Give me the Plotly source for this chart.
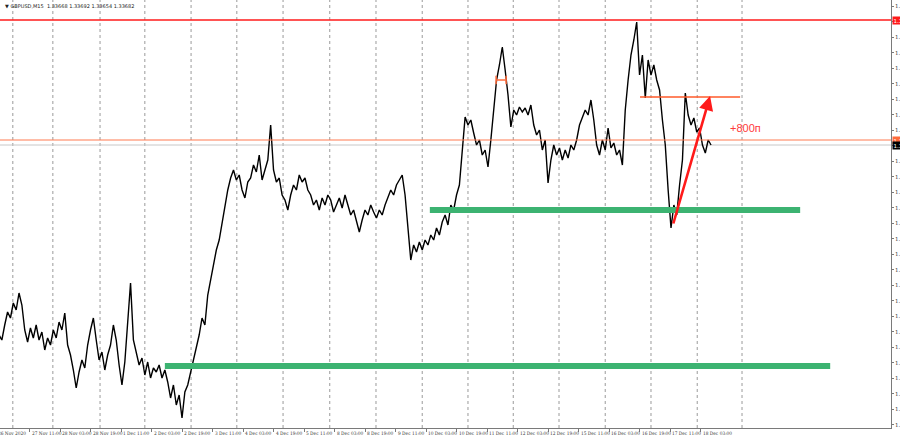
import plotly.graph_objects as go

# ---------------- data ----------------
symbol_title = "▼ GBPUSD,M15  1.33668 1.33692 1.33654 1.33682"
bar_step = 6  # M15 bars between samples
close_prices = [
    1.32542, 1.32512, 1.32602, 1.32680, 1.32644, 1.32734, 1.32692, 1.32794, 1.32722, 1.32572,
    1.32500, 1.32584, 1.32524, 1.32602, 1.32512, 1.32560, 1.32452, 1.32524, 1.32482, 1.32572,
    1.32524, 1.32620, 1.32572, 1.32674, 1.32482, 1.32422, 1.32332, 1.32224, 1.32320, 1.32392,
    1.32344, 1.32482, 1.32572, 1.32644, 1.32512, 1.32392, 1.32440, 1.32332, 1.32422, 1.32482,
    1.32602, 1.32512, 1.32362, 1.32242, 1.32380, 1.32632, 1.32854, 1.32512, 1.32440, 1.32362,
    1.32404, 1.32302, 1.32380, 1.32284, 1.32344, 1.32320, 1.32362, 1.32284, 1.32332, 1.32260,
    1.32164, 1.32242, 1.32122, 1.32182, 1.32044, 1.32200, 1.32242, 1.32320, 1.32392, 1.32482,
    1.32542, 1.32644, 1.32602, 1.32782, 1.32872, 1.32962, 1.33052, 1.33112, 1.33220, 1.33322,
    1.33412, 1.33484, 1.33532, 1.33472, 1.33502, 1.33412, 1.33364, 1.33460, 1.33484, 1.33562,
    1.33520, 1.33622, 1.33472, 1.33532, 1.33592, 1.33802, 1.33532, 1.33460, 1.33484, 1.33382,
    1.33352, 1.33292, 1.33382, 1.33442, 1.33412, 1.33502, 1.33460, 1.33484, 1.33412, 1.33382,
    1.33322, 1.33352, 1.33292, 1.33364, 1.33322, 1.33382, 1.33352, 1.33280, 1.33322, 1.33364,
    1.33304, 1.33382, 1.33322, 1.33262, 1.33292, 1.33220, 1.33160, 1.33232, 1.33292, 1.33262,
    1.33322, 1.33280, 1.33244, 1.33292, 1.33262, 1.33322, 1.33364, 1.33412, 1.33382, 1.33442,
    1.33472, 1.33502, 1.33382, 1.33202, 1.32992, 1.33082, 1.33040, 1.33100, 1.33052, 1.33112,
    1.33082, 1.33142, 1.33112, 1.33184, 1.33142, 1.33220, 1.33262, 1.33202, 1.33322, 1.33292,
    1.33382, 1.33442, 1.33652, 1.33850, 1.33802, 1.33832, 1.33754, 1.33682, 1.33712, 1.33622,
    1.33652, 1.33550, 1.33712, 1.33874, 1.34072, 1.34162, 1.34270, 1.34132, 1.33982, 1.33790,
    1.33892, 1.33862, 1.33910, 1.33880, 1.33904, 1.33862, 1.33922, 1.33802, 1.33742, 1.33772,
    1.33652, 1.33712, 1.33454, 1.33592, 1.33682, 1.33622, 1.33664, 1.33592, 1.33652, 1.33604,
    1.33682, 1.33652, 1.33712, 1.33802, 1.33844, 1.33892, 1.33862, 1.33952, 1.33832, 1.33682,
    1.33622, 1.33712, 1.33652, 1.33784, 1.33664, 1.33694, 1.33622, 1.33652, 1.33562, 1.33892,
    1.34072, 1.34222, 1.34312, 1.34420, 1.34102, 1.34222, 1.33964, 1.34192, 1.34102, 1.34162,
    1.34072, 1.34012, 1.33832, 1.33682, 1.33412, 1.33184, 1.33322, 1.33262, 1.33442, 1.33592,
    1.33994, 1.33862, 1.33802, 1.33844, 1.33760, 1.33784, 1.33682, 1.33634, 1.33712, 1.33682,
]
bar_index = [i * bar_step for i in range(len(close_prices))]

time_labels = [
    "26 Nov 2020", "27 Nov 11:00", "28 Nov 03:00", "28 Nov 19:00", "1 Dec 11:00",
    "2 Dec 03:00", "2 Dec 19:00", "3 Dec 11:00", "4 Dec 03:00", "4 Dec 19:00",
    "5 Dec 11:00", "8 Dec 03:00", "8 Dec 19:00", "9 Dec 11:00", "10 Dec 03:00",
    "10 Dec 19:00", "11 Dec 11:00", "12 Dec 03:00", "12 Dec 19:00", "15 Dec 11:00",
    "16 Dec 03:00", "16 Dec 19:00", "17 Dec 11:00", "18 Dec 03:00",
]
bars_per_label = 64
label_bars = [k * bars_per_label for k in range(len(time_labels))]
day_separators = [29, 113, 212, 306, 403, 499, 596, 694, 791, 888, 984, 1079,
                  1175, 1272, 1368, 1465, 1559]

# horizontal levels
resistance_level = 1.34432      # red line
orange_level = 1.33712          # orange line
bid_level = 1.33682             # grey bid line
green_levels = [1.33292, 1.32356]
green_spans = [(904, 1681), (348, 1744)]
target_level = 1.33970
target_span = (1345, 1555)
marker_level = 1.34072
marker_span = (1043, 1064)
arrow_from = (1414, 1.33202)
arrow_to = (1492, 1.33976)
gain_text = "+800п"
gain_pos = (1567, 1.33784)

y_range = [1.31984, 1.34552]
x_range = [2.1, 1871.6]

# ---------------- figure ----------------
fig = go.Figure()

fig.add_trace(go.Scatter(
    x=bar_index, y=close_prices, mode="lines",
    line=dict(color="#000000", width=1.4), hoverinfo="skip", showlegend=False,
))

# small orange marker near the 11 Dec high
fig.add_trace(go.Scatter(
    x=list(marker_span), y=[marker_level, marker_level], mode="lines+markers",
    line=dict(color="#ff6a3a", width=1.5),
    marker=dict(symbol="line-ns", size=6, line=dict(color="#ff6a3a", width=1.5)),
    hoverinfo="skip", showlegend=False,
))

shapes = []
for b in day_separators:
    shapes.append(dict(type="line", xref="x", yref="paper", x0=b, x1=b, y0=0, y1=1,
                       line=dict(color="#9a9a9a", width=1, dash="dot"), layer="below"))

shapes.append(dict(type="line", xref="paper", yref="y", x0=0, x1=1,
                   y0=resistance_level, y1=resistance_level,
                   line=dict(color="#ff1a1a", width=1.3)))
shapes.append(dict(type="line", xref="paper", yref="y", x0=0, x1=1,
                   y0=orange_level, y1=orange_level,
                   line=dict(color="#ff7a50", width=1)))
shapes.append(dict(type="line", xref="paper", yref="y", x0=0, x1=1,
                   y0=bid_level, y1=bid_level,
                   line=dict(color="#c8c8c8", width=1), layer="below"))
for lvl, (a, b) in zip(green_levels, green_spans):
    shapes.append(dict(type="line", xref="x", yref="y", x0=a, x1=b, y0=lvl, y1=lvl,
                       line=dict(color="#3cb371", width=6)))
shapes.append(dict(type="line", xref="x", yref="y", x0=target_span[0], x1=target_span[1],
                   y0=target_level, y1=target_level,
                   line=dict(color="#ff5a2a", width=1.5)))

label_font = dict(family="DejaVu Serif Condensed, DejaVu Sans Condensed, Liberation Sans Narrow, DejaVu Serif",
                  size=4.8, color="#333333")
annotations = []
for b, t in zip(label_bars, time_labels):
    # first label starts slightly left of the visible window
    xa = max(b, x_range[0])
    annotations.append(dict(x=xa, y=0, xref="x", yref="paper", text=t, showarrow=False,
                            xanchor="left", yanchor="top", yshift=-1,
                            xshift=-4 if b < x_range[0] else 0,
                            font=label_font))

annotations.append(dict(x=arrow_to[0], y=arrow_to[1], ax=arrow_from[0], ay=arrow_from[1],
                        xref="x", yref="y", axref="x", ayref="y", text="",
                        showarrow=True, arrowhead=2, arrowsize=1.1, arrowwidth=2.6,
                        arrowcolor="#ff1a1a"))
annotations.append(dict(x=gain_pos[0], y=gain_pos[1], xref="x", yref="y", text=gain_text,
                        showarrow=False, font=dict(family="Liberation Sans", size=11,
                                                   color="#ff3a3a")))
annotations.append(dict(x=0.003, y=0.997, xref="paper", yref="paper", text=symbol_title,
                        showarrow=False, xanchor="left", yanchor="top",
                        font=dict(family="DejaVu Sans", size=5, color="#222222")))

# price tags on the right axis
for lvl, bg in [(resistance_level, "#ff1a1a"), (orange_level, "#ff6a3a"), (bid_level, "#000000")]:
    annotations.append(dict(x=1, y=lvl, xref="paper", yref="y", text=f"{lvl:.5f}",
                            showarrow=False, xanchor="left", yanchor="middle", xshift=1,
                            bgcolor=bg, borderpad=0.5,
                            font=dict(family="DejaVu Sans", size=5.5, color="#ffffff")))

fig.update_layout(
    width=900, height=437,
    margin=dict(l=0, r=9, t=0, b=9),
    paper_bgcolor="#ffffff", plot_bgcolor="#ffffff",
    shapes=shapes, annotations=annotations,
    xaxis=dict(range=x_range, showgrid=False, zeroline=False, showline=True,
               linecolor="#7a7a7a", linewidth=1, ticks="outside", ticklen=3,
               tickcolor="#7a7a7a", tickvals=label_bars, showticklabels=False,
               fixedrange=True, automargin=False),
    yaxis=dict(range=y_range, side="right", showgrid=False, zeroline=False,
               showline=True, linecolor="#7a7a7a", linewidth=1, ticks="outside",
               ticklen=2, tickcolor="#7a7a7a", tick0=1.34514, dtick=0.00093,
               tickformat=".5f", tickfont=dict(family="DejaVu Serif", size=5.5,
                                               color="#333333"),
               fixedrange=True, automargin=False),
)

fig.write_html(
    "out.html",
    config={"displayModeBar": False},
    post_script="document.body.style.margin='0';document.body.style.overflow='hidden';",
)
